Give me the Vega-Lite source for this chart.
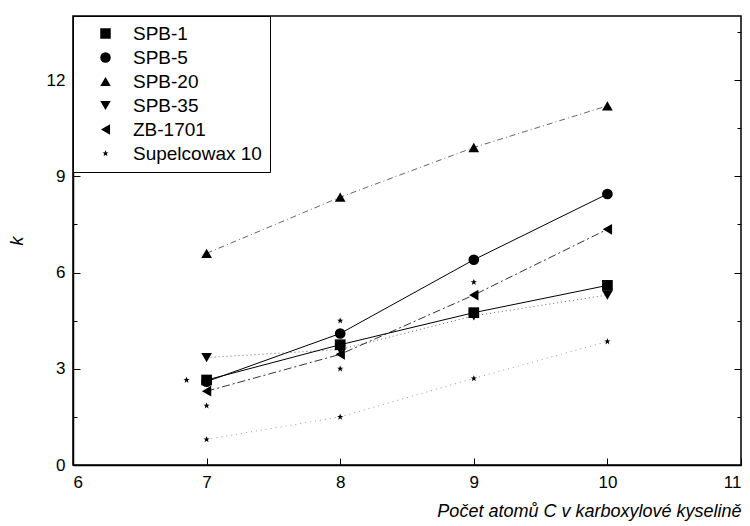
{
  "$schema": "https://vega.github.io/schema/vega-lite/v6.json",
  "width": 668,
  "height": 449,
  "autosize": "none",
  "padding": {"left": 73, "top": 16, "right": 9, "bottom": 61},
  "background": "white",
  "config": {
    "font": "Liberation Sans",
    "view": {"stroke": "black", "strokeWidth": 1.5},
    "axis": {"domainColor": "black", "domainWidth": 1.5, "tickColor": "black", "labelColor": "black", "titleColor": "black", "labelFontSize": 17, "grid": false}
  },
  "data": {
    "values": [
      {"c": 7, "k": 2.65, "s": "SPB-1", "line": true},
      {"c": 8, "k": 3.75, "s": "SPB-1", "line": true},
      {"c": 9, "k": 4.75, "s": "SPB-1", "line": true},
      {"c": 10, "k": 5.6, "s": "SPB-1", "line": true},
      {"c": 7, "k": 2.6, "s": "SPB-5", "line": true},
      {"c": 8, "k": 4.1, "s": "SPB-5", "line": true},
      {"c": 9, "k": 6.4, "s": "SPB-5", "line": true},
      {"c": 10, "k": 8.45, "s": "SPB-5", "line": true},
      {"c": 7, "k": 6.6, "s": "SPB-20", "line": true},
      {"c": 8, "k": 8.35, "s": "SPB-20", "line": true},
      {"c": 9, "k": 9.9, "s": "SPB-20", "line": true},
      {"c": 10, "k": 11.2, "s": "SPB-20", "line": true},
      {"c": 7, "k": 3.35, "s": "SPB-35", "line": true},
      {"c": 8, "k": 3.6, "s": "SPB-35", "line": true},
      {"c": 9, "k": 4.65, "s": "SPB-35", "line": true},
      {"c": 10, "k": 5.3, "s": "SPB-35", "line": true},
      {"c": 7, "k": 2.3, "s": "ZB-1701", "line": true},
      {"c": 8, "k": 3.45, "s": "ZB-1701", "line": true},
      {"c": 9, "k": 5.3, "s": "ZB-1701", "line": true},
      {"c": 10, "k": 7.35, "s": "ZB-1701", "line": true},
      {"c": 7, "k": 0.8, "s": "Supelcowax 10", "line": true},
      {"c": 8, "k": 1.5, "s": "Supelcowax 10", "line": true},
      {"c": 9, "k": 2.7, "s": "Supelcowax 10", "line": true},
      {"c": 10, "k": 3.85, "s": "Supelcowax 10", "line": true},
      {"c": 6.85, "k": 2.65, "s": "Supelcowax 10", "line": false},
      {"c": 7, "k": 1.85, "s": "Supelcowax 10", "line": false},
      {"c": 8, "k": 4.5, "s": "Supelcowax 10", "line": false},
      {"c": 8, "k": 3.0, "s": "Supelcowax 10", "line": false},
      {"c": 9, "k": 5.7, "s": "Supelcowax 10", "line": false}
    ]
  },
  "resolve": {"axis": {"y": "independent"}},
  "layer": [
    {
      "transform": [{"filter": "datum.line && (datum.s == 'SPB-1' || datum.s == 'SPB-5')"}],
      "mark": {"type": "line", "color": "black", "strokeWidth": 1},
      "encoding": {
        "x": {"field": "c", "type": "quantitative", "scale": {"domain": [6, 11], "nice": false},
          "axis": {"values": [6, 7, 8, 9, 10, 11], "format": "d", "tickSize": -7, "labelPadding": 16, "title": "Počet atomů C v karboxylové kyselině", "titleFontSize": 18, "titleFontStyle": "italic", "titleFontWeight": "normal", "titleAnchor": "end", "titlePadding": 12}},
        "y": {"field": "k", "type": "quantitative", "scale": {"domain": [0, 14], "nice": false},
          "axis": {"values": [0, 1.5, 3, 4.5, 6, 7.5, 9, 10.5, 12, 13.5], "labelExpr": "datum.value % 3 == 0 ? datum.label : ''", "tickSize": {"condition": {"test": "datum.value % 3 == 0", "value": -7}, "value": -4}, "labelPadding": 15, "title": "k", "titleFontSize": 18, "titleFontStyle": "italic", "titleFontWeight": "normal", "titlePadding": 20}},
        "detail": {"field": "s"}
      }
    },
    {
      "transform": [{"filter": "datum.line && datum.s == 'SPB-20'"}],
      "mark": {"type": "line", "color": "black", "strokeWidth": 1, "strokeDash": [6, 3, 1, 3], "opacity": 0.6},
      "encoding": {"x": {"field": "c", "type": "quantitative"}, "y": {"field": "k", "type": "quantitative", "axis": null}}
    },
    {
      "transform": [{"filter": "datum.line && datum.s == 'SPB-35'"}],
      "mark": {"type": "line", "color": "black", "strokeWidth": 1, "strokeDash": [1, 3], "opacity": 0.6},
      "encoding": {"x": {"field": "c", "type": "quantitative"}, "y": {"field": "k", "type": "quantitative", "axis": null}}
    },
    {
      "transform": [{"filter": "datum.line && datum.s == 'ZB-1701'"}],
      "mark": {"type": "line", "color": "black", "strokeWidth": 1, "strokeDash": [8, 3, 2, 3], "opacity": 0.8},
      "encoding": {"x": {"field": "c", "type": "quantitative"}, "y": {"field": "k", "type": "quantitative", "axis": null}}
    },
    {
      "transform": [{"filter": "datum.line && datum.s == 'Supelcowax 10'"}],
      "mark": {"type": "line", "color": "black", "strokeWidth": 1, "strokeDash": [1, 4], "opacity": 0.4},
      "encoding": {"x": {"field": "c", "type": "quantitative"}, "y": {"field": "k", "type": "quantitative", "axis": null}}
    },
    {
      "mark": {"type": "point", "filled": true, "color": "black", "opacity": 1, "size": 115},
      "encoding": {
        "x": {"field": "c", "type": "quantitative"},
        "y": {"field": "k", "type": "quantitative", "axis": null},
        "shape": {"field": "s", "type": "nominal",
          "scale": {"domain": ["SPB-1", "SPB-5", "SPB-20", "SPB-35", "ZB-1701", "Supelcowax 10"],
            "range": ["square", "circle", "triangle-up", "triangle-down", "triangle-left", "M0,-0.6L0.18,-0.18L0.6,-0.18L0.24,0.06L0.36,0.54L0,0.24L-0.36,0.54L-0.24,0.06L-0.6,-0.18L-0.18,-0.18Z"]},
          "legend": {"title": null, "orient": "top-left", "offset": 0, "strokeColor": "black", "fillColor": "white", "padding": 8, "labelFontSize": 19, "symbolFillColor": "black", "symbolStrokeColor": "black", "symbolSize": 110, "rowPadding": 4, "labelOffset": 18, "symbolOffset": 15, "labelLimit": 300}}
      }
    },
    {
      "mark": {"type": "point", "opacity": 0},
      "encoding": {
        "y": {"field": "k", "type": "quantitative",
          "axis": {"orient": "right", "values": [0, 1.5, 3, 4.5, 6, 7.5, 9, 10.5, 12, 13.5], "labels": false, "title": null, "domain": false, "tickSize": {"condition": {"test": "datum.value % 3 == 0", "value": -7}, "value": -4}}}
      }
    }
  ]
}
